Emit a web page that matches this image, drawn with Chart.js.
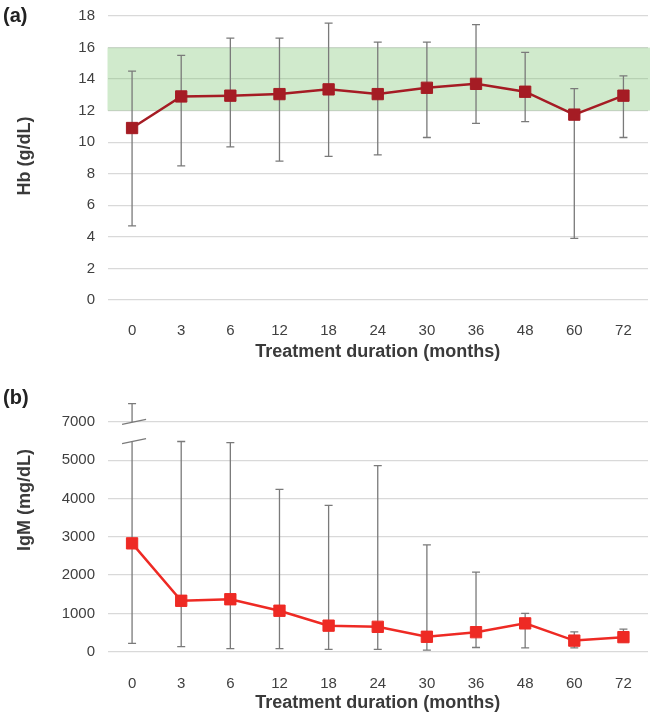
<!DOCTYPE html>
<html>
<head>
<meta charset="utf-8">
<script src="https://cdn.jsdelivr.net/npm/chart.js@4.4.1/dist/chart.umd.min.js"></script>
<style>
body { margin: 0; background: #fff; width: 654px; height: 717px; position: relative; overflow: hidden; font-family: "Liberation Sans", Arial, sans-serif; }
.panel { position: absolute; left: 0; width: 654px; }
.tag { position: absolute; left: 3px; font-weight: bold; font-size: 20px; color: #222; line-height: 1; }
</style>
</head>
<body>
<div class="panel" style="top:0;height:365px"><canvas id="hb"></canvas></div>
<div class="panel" style="top:365px;height:352px"><canvas id="igm"></canvas></div>
<div class="tag" style="top:5px">(a)</div>
<div class="tag" style="top:387px">(b)</div>
<script>
var months = ['0', '3', '6', '12', '18', '24', '30', '36', '48', '60', '72']

// (a) haemoglobin, g/dL
var hbMean = [10.9, 12.9, 12.95, 13.05, 13.35, 13.05, 13.45, 13.7, 13.2, 11.75, 12.95]
var hbHigh = [14.5, 15.5, 16.6, 16.6, 17.55, 16.35, 16.35, 17.45, 15.7, 13.4, 14.2]
var hbLow = [4.7, 8.5, 9.7, 8.8, 9.1, 9.2, 10.3, 11.2, 11.3, 3.9, 10.3]
var hbNormal = [12, 16]

// (b) IgM, mg/dL (axis broken between 5500 and 7000)
var igmMean = [2830, 1330, 1370, 1070, 680, 650, 390, 510, 740, 290, 380]
var igmHigh = [7480, 5490, 5460, 4240, 3820, 4860, 2790, 2080, 1000, 520, 590]
var igmLow = [220, 130, 80, 80, 60, 60, 40, 110, 100, 100, 250]
var igmTicks = [0, 1000, 2000, 3000, 4000, 5000, 7000]
var igmBreak = [5500, 7000]

// values above the break are pulled down by 1000 so 7000 sits where 6000 would
var brk = function(v) { return v >= 7000 ? v - 1000 : v }
var same = function(v) { return v }

var tickFont = { family: '"Liberation Sans", Arial, sans-serif', size: 15 }
var titleFont = { family: '"Liberation Sans", Arial, sans-serif', size: 18, weight: 'bold', lineHeight: 1.2 }

var noPad = function(scale) {
  scale.paddingTop = 0
  scale.paddingBottom = 0
  scale.paddingLeft = 0
  scale.paddingRight = 0
}

var makeBand = function(lo, hi) {
  return {
    id: 'band',
    beforeDatasetsDraw: function(chart) {
      var a = chart.chartArea, y = chart.scales.y, ctx = chart.ctx
      var top = y.getPixelForValue(hi), bot = y.getPixelForValue(lo)
      ctx.save()
      ctx.fillStyle = 'rgba(120,195,110,0.35)'
      ctx.fillRect(a.left, top, a.right - a.left + 2, bot - top)
      ctx.restore()
    }
  }
}

var makeErrorBars = function(low, high, map, gap) {
  return {
    id: 'errorBars',
    beforeDatasetsDraw: function(chart) {
      var x = chart.scales.x, y = chart.scales.y, ctx = chart.ctx
      ctx.save()
      ctx.strokeStyle = '#7a7a7a'
      ctx.lineWidth = 1.3
      low.forEach(function(lo, i) {
        var px = x.getPixelForValue(i)
        var top = y.getPixelForValue(map(high[i]))
        var bot = y.getPixelForValue(map(lo))
        ctx.beginPath()
        if (gap && high[i] > gap[1]) {
          ctx.moveTo(px, bot); ctx.lineTo(px, y.getPixelForValue(map(gap[0])))
          ctx.moveTo(px, y.getPixelForValue(map(gap[1]))); ctx.lineTo(px, top)
        } else {
          ctx.moveTo(px, bot); ctx.lineTo(px, top)
        }
        ctx.moveTo(px - 4, top); ctx.lineTo(px + 4, top)
        ctx.moveTo(px - 4, bot); ctx.lineTo(px + 4, bot)
        ctx.stroke()
      })
      if (gap) {
        var cx = x.getPixelForValue(0) + 2
        gap.forEach(function(g) {
          var py = y.getPixelForValue(map(g))
          ctx.beginPath()
          ctx.moveTo(cx - 12, py + 2.5)
          ctx.lineTo(cx + 12, py - 2.5)
          ctx.stroke()
        })
      }
      ctx.restore()
    }
  }
}

var makeYTitle = function(text, cy) {
  return {
    id: 'yTitle',
    afterDraw: function(chart) {
      var ctx = chart.ctx
      ctx.save()
      ctx.translate(25, cy)
      ctx.rotate(-Math.PI / 2)
      ctx.font = 'bold 18px "Liberation Sans", Arial, sans-serif'
      ctx.fillStyle = '#3a3a3a'
      ctx.textAlign = 'center'
      ctx.textBaseline = 'middle'
      ctx.fillText(text, 0, 0)
      ctx.restore()
    }
  }
}

var xAxis = function(pad, bottomPad, height) {
  return {
    offset: true,
    grid: { display: false },
    border: { display: false },
    ticks: { color: '#404040', font: tickFont, padding: pad, maxRotation: 0, autoSkip: false },
    title: { display: true, text: 'Treatment duration (months)', color: '#3a3a3a', font: titleFont, padding: { top: 0, bottom: bottomPad } },
    afterFit: function(scale) { scale.height = height; noPad(scale) }
  }
}

var drawHbChart = function() {
  new Chart(document.getElementById('hb'), {
    type: 'line',
    data: {
      labels: months,
      datasets: [{
        data: hbMean,
        borderColor: '#a51c24',
        backgroundColor: '#a51c24',
        borderWidth: 2.5,
        pointStyle: 'rect',
        pointRadius: 8,
        pointBorderWidth: 1,
        pointHoverRadius: 8
      }]
    },
    options: {
      responsive: true,
      maintainAspectRatio: false,
      animation: false,
      layout: { autoPadding: false, padding: { top: 16, right: 6, left: 0, bottom: 0 } },
      plugins: { legend: { display: false }, tooltip: { enabled: false } },
      scales: {
        x: xAxis(13.6, 2.2, 65),
        y: {
          min: 0, max: 18,
          grid: { color: '#d9d9d9', lineWidth: 1.3, drawTicks: false },
          border: { display: false },
          ticks: { stepSize: 2, color: '#404040', font: tickFont, padding: 12.5 },
          afterFit: function(scale) { scale.width = 107.5; noPad(scale) }
        }
      }
    },
    plugins: [makeBand(hbNormal[0], hbNormal[1]), makeErrorBars(hbLow, hbHigh, same), makeYTitle('Hb (g/dL)', 156)]
  })
}

var drawIgmChart = function() {
  new Chart(document.getElementById('igm'), {
    type: 'line',
    data: {
      labels: months,
      datasets: [{
        data: igmMean.map(brk),
        borderColor: '#ee2a24',
        backgroundColor: '#ee2a24',
        borderWidth: 2.5,
        pointStyle: 'rect',
        pointRadius: 8,
        pointBorderWidth: 1,
        pointHoverRadius: 8
      }]
    },
    options: {
      responsive: true,
      maintainAspectRatio: false,
      animation: false,
      layout: { autoPadding: false, padding: { top: 34, right: 6, left: 0, bottom: 0 } },
      plugins: { legend: { display: false }, tooltip: { enabled: false } },
      scales: {
        x: xAxis(14.9, 3.2, 65.3),
        y: {
          min: 0, max: 6600,
          grid: { color: '#d9d9d9', lineWidth: 1.3, drawTicks: false },
          border: { display: false },
          ticks: {
            color: '#404040', font: tickFont, padding: 12.5,
            callback: function(value, index) { return igmTicks[index] }
          },
          afterBuildTicks: function(scale) {
            scale.ticks = igmTicks.map(function(v) { return { value: brk(v) } })
          },
          afterFit: function(scale) { scale.width = 107.5; noPad(scale) }
        }
      }
    },
    plugins: [makeErrorBars(igmLow, igmHigh, brk, igmBreak), makeYTitle('IgM (mg/dL)', 135)]
  })
}

drawHbChart()
drawIgmChart()
</script>
</body>
</html>
